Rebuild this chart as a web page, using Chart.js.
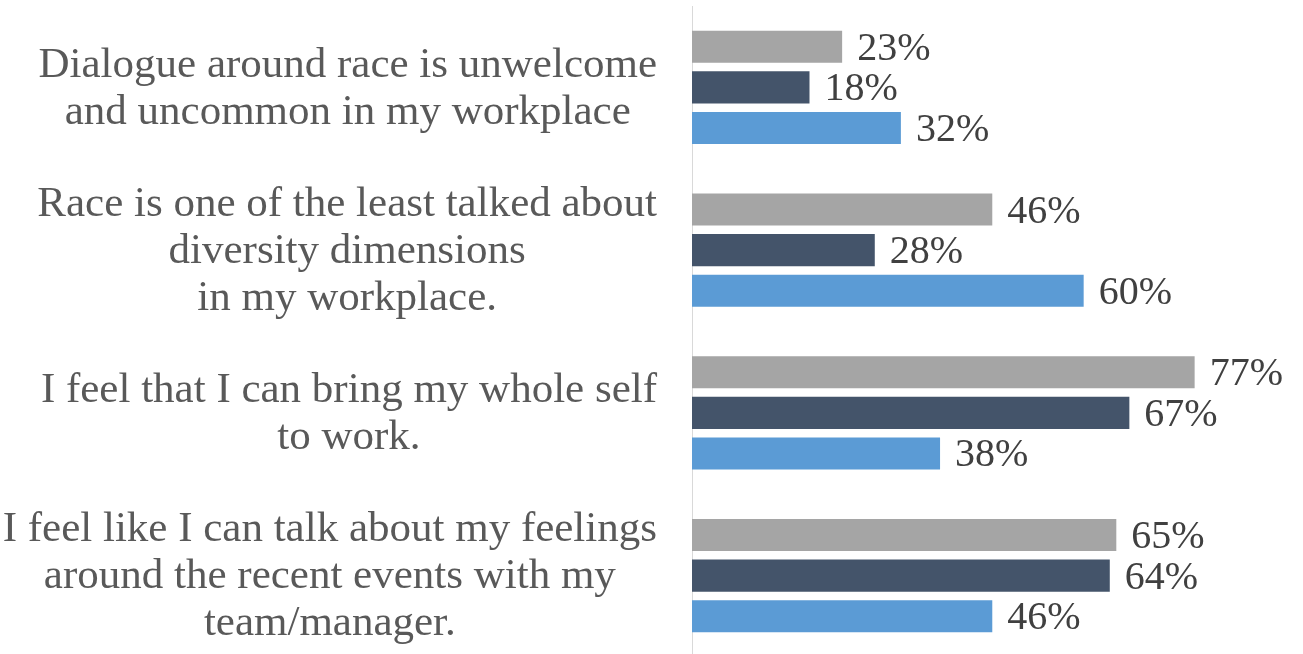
<!DOCTYPE html>
<html>
<head>
<meta charset="utf-8">
<script src="https://cdn.jsdelivr.net/npm/chart.js@4/dist/chart.umd.min.js"></script>
<style>
  html, body { margin: 0; padding: 0; background: #ffffff; }
  #wrap { width: 1303px; height: 654px; position: relative; overflow: hidden; }
  #inner { width: 1303px; height: 657px; position: relative; }
</style>
</head>
<body>
<div id="wrap"><div id="inner"><canvas id="chart"></canvas></div></div>
<script>
// Statements (each entry is the list of lines shown for that statement)
const categories = [
  ["Dialogue around race is unwelcome", "and uncommon in my workplace"],
  ["Race is one of the least talked about", "diversity dimensions", "in my workplace."],
  ["I feel that I can bring my whole self", "to work."],
  ["I feel like I can talk about my feelings", "around the recent events with my", "team/manager."]
];

// Percent agreeing, one array per respondent group
const seriesNames = ["Group A", "Group B", "Group C"];
const groupA = [23, 46, 77, 65];
const groupB = [18, 28, 67, 64];
const groupC = [32, 60, 38, 46];

const seriesColors = ["#A5A5A5", "#44546A", "#5B9BD5"];

const labelFont = '43px "Liberation Serif", serif';
const valueFont = '40px "Liberation Serif", serif';
const textColor = "#595959";
const valueColor = "#404040";

// Draws the multi-line statement text, lines centred within a right-aligned block
const statementLabels = {
  id: "statementLabels",
  afterDraw(chart) {
    const ctx = chart.ctx;
    const yScale = chart.scales.y;
    const rightEdge = yScale.right - 35;
    const lineHeight = 47;
    ctx.save();
    ctx.font = labelFont;
    ctx.fillStyle = textColor;
    ctx.textAlign = "center";
    ctx.textBaseline = "middle";
    categories.forEach((lines, i) => {
      const cy = yScale.getPixelForValue(i) + 1.5;
      const maxW = Math.max(...lines.map(l => ctx.measureText(l).width));
      const cx = rightEdge - maxW / 2;
      lines.forEach((line, j) => {
        ctx.fillText(line, cx, cy + (j - (lines.length - 1) / 2) * lineHeight);
      });
    });
    ctx.restore();
  }
};

// Writes each bar's percentage just past its end
const valueLabels = {
  id: "valueLabels",
  afterDatasetsDraw(chart) {
    const ctx = chart.ctx;
    ctx.save();
    ctx.font = valueFont;
    ctx.fillStyle = valueColor;
    ctx.textAlign = "left";
    ctx.textBaseline = "middle";
    chart.data.datasets.forEach((ds, di) => {
      const meta = chart.getDatasetMeta(di);
      meta.data.forEach((bar, i) => {
        ctx.fillText(ds.data[i] + "%", bar.x + 15, bar.y + 2.5);
      });
    });
    ctx.restore();
  }
};

const seriesData = [groupA, groupB, groupC];

new Chart(document.getElementById("chart"), {
  type: "bar",
  data: {
    labels: categories.map(l => l.join(" ")),
    datasets: seriesData.map((d, k) => ({
      label: seriesNames[k],
      data: d,
      backgroundColor: seriesColors[k],
      borderWidth: 0,
      categoryPercentage: 0.748,
      barPercentage: 0.79
    }))
  },
  options: {
    indexAxis: "y",
    responsive: true,
    maintainAspectRatio: false,
    animation: false,
    layout: { padding: { top: 6, bottom: 0, left: 0, right: 0 } },
    plugins: {
      legend: { display: false },
      tooltip: { enabled: false }
    },
    scales: {
      x: {
        min: 0,
        max: 93.6,
        display: false
      },
      y: {
        grid: { display: false, drawTicks: false },
        border: { display: true, color: "#D9D9D9", width: 1 },
        ticks: { display: false },
        afterFit(scale) { scale.width = 692; }
      }
    }
  },
  plugins: [statementLabels, valueLabels]
});
</script>
</body>
</html>
